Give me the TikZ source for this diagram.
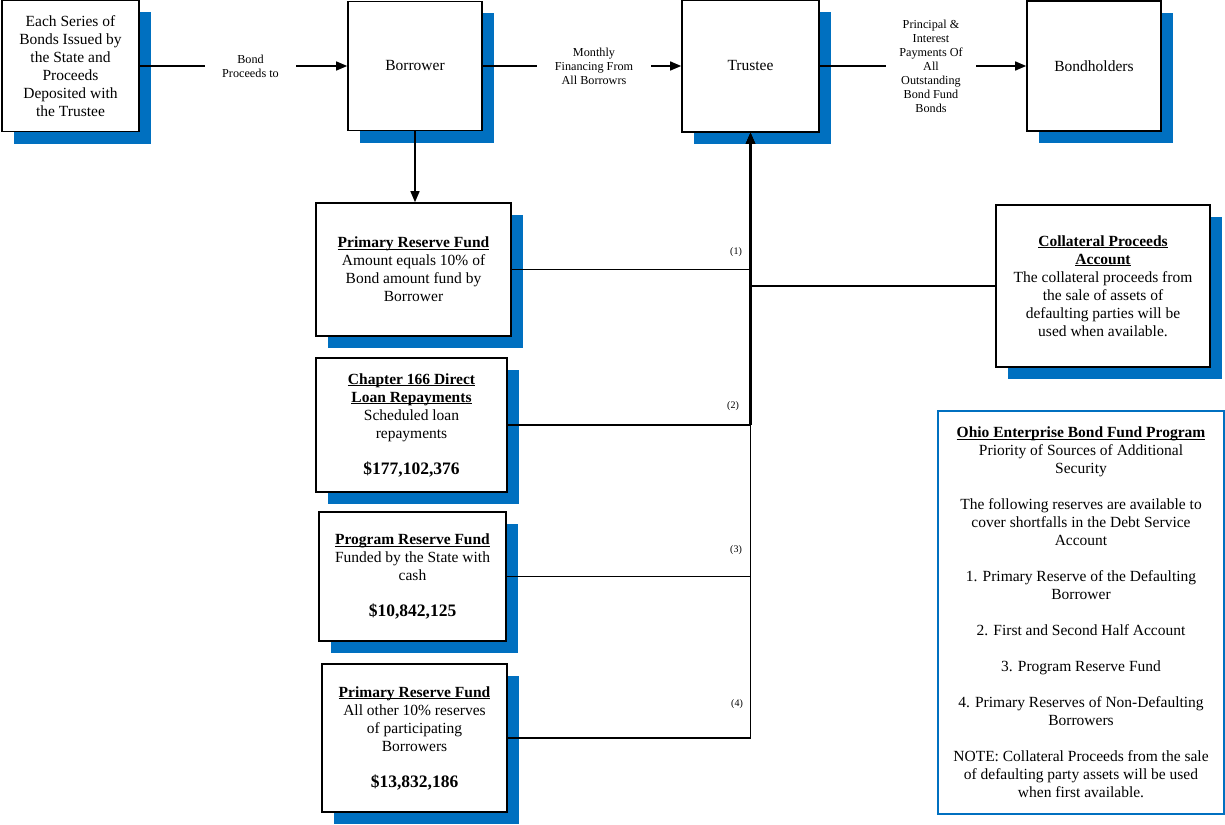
\documentclass[tikz,border=0pt]{standalone}
\usepackage{fontspec}
\setmainfont{Liberation Serif}
\usetikzlibrary{arrows.meta,shadows,calc}
\definecolor{shblue}{RGB}{0,112,192}
\tikzset{
  box/.style={draw=black, line width=1.6pt, fill=white, align=center, inner sep=2pt,
    font=\fontsize{15.5}{18}\selectfont,
    general shadow={fill=shblue, shadow xshift=12pt, shadow yshift=-12pt}},
  legendbox/.style={draw=shblue, line width=2pt, fill=white, align=center, inner sep=2pt,
    font=\fontsize{15.5}{18}\selectfont},
  lbl/.style={align=center, inner sep=0pt, font=\fontsize{12.2}{14}\selectfont},
  num/.style={inner sep=0pt, font=\fontsize{10}{12}\selectfont},
  conn/.style={line width=1.4pt},
  arr/.style={conn, -{Triangle[length=11pt,width=9pt]}},
}
\newcommand{\ttl}[1]{\underline{\smash{\textbf{#1}}}\vphantom{\textbf{#1}}}
\newcommand{\amt}[1]{{\fontsize{17.5}{18}\selectfont\textbf{#1}}}
\begin{document}
\begin{tikzpicture}[x=1pt,y=-1pt]
\useasboundingbox (0,0) rectangle (1225,824);

% top row
\node[box, minimum width=137pt, minimum height=131pt] (A) at (70.5,66)
  {Each Series of\\Bonds Issued by\\the State and\\Proceeds\\Deposited with\\the Trustee};
\node[box, minimum width=134pt, minimum height=129pt] (B) at (415,66) {Borrower};
\node[box, minimum width=137pt, minimum height=132pt] (T) at (750.5,66) {Trustee};
\node[box, minimum width=134pt, minimum height=130pt] (H) at (1094,66) {Bondholders};

\node[lbl, minimum width=91pt] (l1) at (250.5,66) {Bond\\Proceeds to};
\node[lbl, minimum width=114pt] (l2) at (594,66) {Monthly\\Financing From\\All Borrowrs};
\node[lbl, minimum width=90pt] (l3) at (931,66) {Principal \&\\Interest\\Payments Of\\All\\Outstanding\\Bond Fund\\Bonds};

% reserve boxes
\node[box, minimum width=195pt, minimum height=133pt] (P1) at (413.5,269.5)
  {\ttl{Primary Reserve Fund}\\Amount equals 10\% of\\Bond amount fund by\\Borrower};
\node[box, minimum width=191pt, minimum height=134pt] (C166) at (411.5,425)
  {\ttl{Chapter 166 Direct}\\\ttl{Loan Repayments}\\Scheduled loan\\repayments\\[18pt]\amt{\$177,102,376}};
\node[box, minimum width=187pt, minimum height=129pt] (PR) at (412.5,576.5)
  {\ttl{Program Reserve Fund}\\Funded by the State with\\cash\\[18pt]\amt{\$10,842,125}};
\node[box, minimum width=185pt, minimum height=148pt] (P2) at (414.5,738)
  {\ttl{Primary Reserve Fund}\\All other 10\% reserves\\of participating\\Borrowers\\[18pt]\amt{\$13,832,186}};

\node[box, minimum width=214pt, minimum height=162pt] (CP) at (1103,286)
  {\ttl{Collateral Proceeds}\\\ttl{Account}\\The collateral proceeds from\\the sale of assets of\\defaulting parties will be\\used when available.};

\node[legendbox, minimum width=286pt, minimum height=403pt] (L) at (1081,612.5)
  {\ttl{Ohio Enterprise Bond Fund Program}\\Priority of Sources of Additional\\Security\\[18pt]
   The following reserves are available to\\cover shortfalls in the Debt Service\\Account\\[18pt]
   1. Primary Reserve of the Defaulting\\Borrower\\[18pt]
   2. First and Second Half Account\\[18pt]
   3. Program Reserve Fund\\[18pt]
   4. Primary Reserves of Non-Defaulting\\Borrowers\\[18pt]
   NOTE: Collateral Proceeds from the sale\\of defaulting party assets will be used\\when first available.};

% number labels
\node[num] (n1) at (736,252) {(1)};
\node[num] (n2) at (733,406) {(2)};
\node[num] (n3) at (736,550) {(3)};
\node[num] (n4) at (737,704) {(4)};

% top connectors
\draw[conn] (A) -- (l1);
\draw[arr] (l1) -- (B);
\draw[conn] (B) -- (l2);
\draw[arr] (l2) -- (T);
\draw[conn] (T) -- (l3);
\draw[arr] (l3) -- (H);
\draw[arr] (B.south) -- (B.south |- P1.north);

% bus to trustee
\draw[arr] (P2.east) -| (T.south);
\draw[arr] (PR.east) -| (T.south);
\draw[conn] (C166.east) -- (C166.east -| T.south);
\draw[arr, line width=2.4pt] (C166.east -| T.south) -- (T.south);
\draw[arr] (P1.east) -| (T.south);
\draw[conn] (CP.west) -- (CP.west -| T.south);
\end{tikzpicture}
\end{document}
